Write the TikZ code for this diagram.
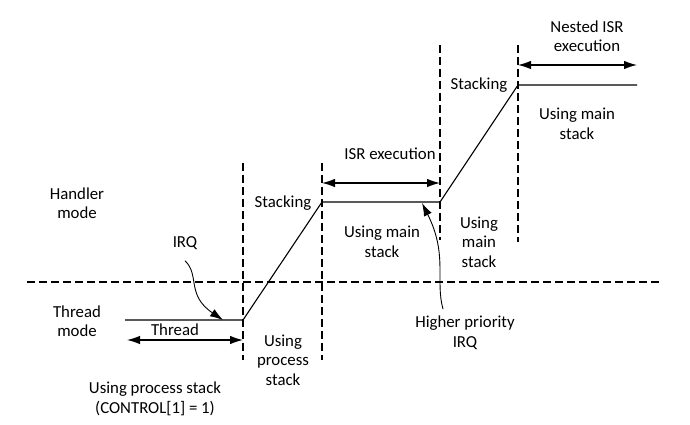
\documentclass[tikz,border=0pt]{standalone}
\usepackage{fontspec}
\setmainfont{Carlito}
\usetikzlibrary{arrows.meta}
\tikzset{
  lbl/.style={inner sep=0pt, align=center, font=\fontsize{16.8}{19.5}\selectfont},
  guide/.style={line width=1.1pt, dash pattern=on 8pt off 4pt},
  trace/.style={line width=1.1pt},
  span/.style={line width=1.2pt, {Latex[length=13pt,width=8.5pt]}-{Latex[length=13pt,width=8.5pt]}},
  pointer/.style={line width=0.9pt, -{Latex[length=13pt,width=8.5pt]}}
}
\begin{document}
\begin{tikzpicture}[x=1pt,y=-1pt]
\useasboundingbox (0,0) rectangle (690,425);
% guides
\coordinate (hl) at (27,282); \coordinate (hr) at (662,282);
\draw[guide] (hl) -- (hr);
\coordinate (v1t) at (243,163); \coordinate (v1b) at (243,360);
\coordinate (v2t) at (322,163); \coordinate (v2b) at (322,360);
\coordinate (v3t) at (440,45); \coordinate (v3b) at (440,240);
\coordinate (v4t) at (518,45); \coordinate (v4b) at (518,242);
\draw[guide] (v1t) -- (v1b);
\draw[guide] (v2t) -- (v2b);
\draw[guide] (v3t) -- (v3b);
\draw[guide] (v4t) -- (v4b);
% trace
\coordinate (p0) at (125,320);
\coordinate (p1) at (243,320);
\coordinate (p2) at (322,202);
\coordinate (p3) at (440,202);
\coordinate (p4) at (518,85);
\coordinate (p5) at (637,85);
\draw[trace] (p0) -- (p1) -- (p2) -- (p3) -- (p4) -- (p5);
% spans
\coordinate (a1l) at (127,340); \coordinate (a1r) at (243,340);
\coordinate (a2l) at (322,183); \coordinate (a2r) at (440,183);
\coordinate (a3l) at (518,65); \coordinate (a3r) at (637,65);
\draw[span] (a1l) -- (a1r);
\draw[span] (a2l) -- (a2r);
\draw[span] (a3l) -- (a3r);
% labels
\node[lbl] (handler) at (77,203) {Handler\\mode};
\node[lbl] (irq) at (185,243) {IRQ};
\node[lbl] (threadmode) at (77,321) {Thread\\mode};
\node[lbl] (thread) at (175,330) {Thread};
\node[lbl] (ups) at (155,399) {Using process stack\\(CONTROL[1] = 1)};
\node[lbl] (ups2) at (283,360) {Using\\process\\stack};
\node[lbl] (stk1) at (283,203) {Stacking};
\node[lbl] (isr) at (390,154) {ISR execution};
\node[lbl] (ums1) at (382,242) {Using main\\stack};
\node[lbl] (ums2) at (479,242) {Using\\main\\stack};
\node[lbl] (hp) at (465,333) {Higher priority\\IRQ};
\node[lbl] (stk2) at (479,85) {Stacking};
\node[lbl] (nested) at (587,36) {Nested ISR\\execution};
\node[lbl] (ums3) at (577,124) {Using main\\stack};
% pointers
\coordinate (irqtip) at (223,320);
\coordinate (hptip) at (422,203);
\draw[pointer] (irq.south) ++(0,11) .. controls (200,275) and (186,295) .. (irqtip);
\draw[pointer] (hp.north) ++(-22,-7) .. controls (435,280) and (448,255) .. (hptip);
\end{tikzpicture}
\end{document}
